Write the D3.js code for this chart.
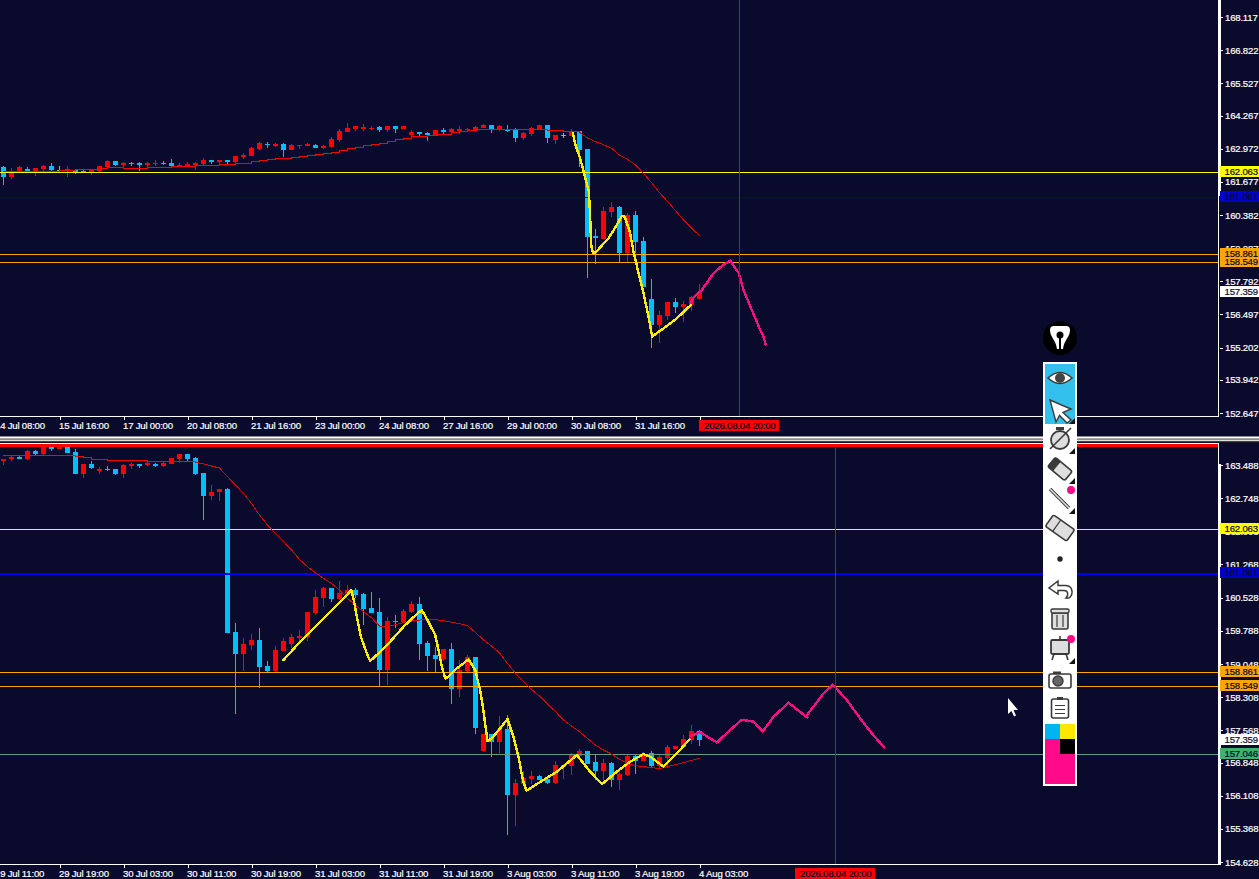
<!DOCTYPE html>
<html>
<head>
<meta charset="utf-8">
<script src="https://cdn.jsdelivr.net/npm/d3@7"></script>
<style>
  html, body { margin: 0; padding: 0; background: #0a0a2c; overflow: hidden; }
  svg { display: block; }
  text { font-family: "Liberation Sans", Arial, sans-serif; font-size: 9.6px; letter-spacing: -0.2px; stroke-width: 0.2px; }
</style>
</head>
<body>
<div id="chart"></div>
<script>
// H4 candles, upper window
const topOpen = [162.258,161.854,162.063,162.180,162.049,162.180,162.297,162.154,162.115,162.154,162.115,162.049,162.102,162.245,162.492,162.336,162.401,162.414,162.336,162.401,162.427,162.414,162.284,162.284,162.336,162.375,162.531,162.453,162.531,162.453,162.648,162.688,162.961,163.156,163.078,163.156,162.922,163.091,163.078,163.117,163.000,163.039,163.313,163.625,163.742,163.742,163.781,163.820,163.703,163.859,
  163.742,163.507,163.625,163.586,163.468,163.703,163.625,163.664,163.716,163.664,163.781,163.898,163.742,163.703,163.703,163.390,163.546,163.703,163.898,163.312,163.494,163.468,163.664,162.961,159.562,159.445,160.500,160.695,158.898,160.382,159.367,157.101,156.085,156.437,156.984,156.789,156.867,157.101];
const topHigh = [162.310,162.219,162.310,162.258,162.219,162.349,162.414,162.297,162.297,162.154,162.154,162.167,162.297,162.518,162.492,162.466,162.466,162.466,162.466,162.531,162.492,162.570,162.414,162.453,162.466,162.609,162.531,162.531,162.531,162.688,162.805,163.039,163.234,163.234,163.195,163.195,163.156,163.117,163.195,163.156,163.117,163.430,163.742,163.977,163.859,163.938,163.859,163.859,163.859,163.859,
  163.859,163.703,163.625,163.625,163.703,163.781,163.781,163.859,163.781,163.859,163.937,163.898,163.898,163.898,163.781,163.625,163.820,163.898,163.898,163.507,163.586,163.742,163.664,162.961,159.836,160.695,160.890,160.734,160.461,160.539,159.523,157.882,156.632,156.984,157.140,157.023,157.218,157.687];
const topLow = [161.555,161.789,162.049,162.049,161.906,162.063,162.089,162.049,161.867,161.984,162.010,161.945,162.063,162.206,162.297,162.258,162.297,162.102,162.245,162.297,162.336,162.219,162.258,162.258,162.154,162.336,162.375,162.375,162.375,162.414,162.570,162.688,162.922,163.000,163.039,162.648,162.922,162.961,163.078,163.000,162.961,163.039,163.234,163.625,163.664,163.664,163.703,163.625,163.625,163.586,
  163.742,163.468,163.468,163.273,163.468,163.546,163.586,163.546,163.625,163.625,163.781,163.586,163.664,163.625,163.234,163.312,163.468,163.703,163.195,163.156,163.390,163.468,162.257,157.921,158.468,159.445,160.304,158.546,158.546,158.898,157.570,155.187,155.382,156.281,156.554,156.203,156.632,157.101];
const topClose = [161.867,162.023,162.258,162.049,162.219,162.310,162.141,162.154,162.167,162.049,162.089,162.154,162.297,162.492,162.336,162.427,162.375,162.336,162.427,162.414,162.401,162.284,162.336,162.375,162.414,162.531,162.453,162.531,162.453,162.688,162.727,163.000,163.195,163.143,163.156,162.922,163.117,163.117,163.156,163.000,163.078,163.352,163.664,163.781,163.859,163.820,163.794,163.703,163.859,163.742,
  163.859,163.625,163.546,163.507,163.703,163.625,163.742,163.742,163.729,163.820,163.898,163.742,163.859,163.664,163.390,163.586,163.781,163.898,163.390,163.507,163.494,163.625,162.922,159.523,159.484,160.539,160.695,158.898,160.382,159.328,157.570,156.085,156.476,156.984,156.789,156.906,157.179,157.375];
const topMa = [162.089,162.076,162.076,162.070,162.063,162.063,162.089,162.128,162.128,162.154,162.167,162.167,162.206,162.219,162.232,162.206,162.206,162.206,162.245,162.245,162.245,162.271,162.284,162.284,162.297,162.323,162.323,162.362,162.362,162.401,162.401,162.479,162.518,162.557,162.596,162.596,162.635,162.674,162.714,162.753,162.792,162.831,162.909,162.987,163.026,163.078,163.143,163.182,163.234,163.313,
  163.365,163.442,163.468,163.494,163.520,163.546,163.586,163.625,163.677,163.716,163.729,163.729,163.729,163.703,163.703,163.703,163.716,163.703,163.690,163.664,163.651,163.651,163.612,163.390,163.247,163.130,162.987,162.726,162.557,162.336,162.010,161.645,161.255,160.916,160.552,160.187,159.875,159.575];

// H1 candles, lower window
const botOpen = [163.578,163.615,163.667,163.622,163.801,163.734,163.935,163.845,163.935,163.779,163.287,163.511,163.354,163.399,163.399,163.287,163.466,163.511,163.488,163.511,163.466,163.511,163.622,163.734,163.645,163.310,162.796,162.885,162.952,159.760,159.269,159.470,159.581,159.001,158.890,159.336,159.492,159.626,159.649,160.184,160.519,160.742,160.497,160.586,160.698,160.608,160.296,160.206,158.912,159.998,159.983,160.206,160.385,159.514,
  159.247,159.158,159.381,158.488,158.890,159.203,157.104,157.484,157.305,157.595,156.122,156.368,156.480,156.546,156.480,156.390,156.747,156.770,156.993,157.104,156.859,156.658,156.837,156.457,156.569,156.993,156.881,157.052,156.770,156.948,157.149,157.194,157.350,157.551];
const botHigh = [163.615,163.689,163.689,163.823,163.823,163.980,163.980,163.960,163.980,163.845,163.511,163.578,163.444,163.466,163.399,163.511,163.533,163.511,163.555,163.533,163.555,163.645,163.734,163.734,163.667,163.310,163.041,162.952,162.974,159.961,159.626,159.716,159.849,159.113,159.448,159.626,159.716,159.805,160.206,160.698,160.764,160.742,160.898,160.809,160.742,160.630,160.653,160.519,160.095,160.140,160.274,160.452,160.541,159.559,
  159.426,159.381,159.515,159.136,159.247,159.203,157.484,157.484,157.886,157.908,156.480,156.658,156.658,156.569,156.480,156.881,156.814,157.052,157.149,157.104,157.015,156.926,156.859,156.680,157.037,157.037,157.082,157.104,157.015,157.238,157.216,157.461,157.685,157.573];
const botLow = [163.488,163.578,163.622,163.600,163.712,163.712,163.801,163.845,163.756,163.287,163.198,163.399,163.287,163.354,163.265,163.198,163.399,163.421,163.466,163.444,163.444,163.511,163.533,163.578,163.265,162.260,162.706,162.684,159.738,157.930,158.890,159.359,158.510,158.867,158.890,159.336,159.403,159.492,159.559,160.140,160.318,160.430,160.474,160.586,160.519,159.916,160.184,158.555,158.577,159.849,159.961,160.184,159.135,158.890,
  158.868,159.113,158.153,158.310,158.868,157.484,157.104,156.970,157.060,155.230,155.430,156.368,156.368,156.457,156.368,156.368,156.480,156.569,156.993,156.814,156.457,156.457,156.301,156.234,156.546,156.591,156.881,156.747,156.725,156.725,157.149,157.194,157.261,157.216];
const botClose = [163.615,163.667,163.622,163.801,163.734,163.935,163.845,163.935,163.756,163.287,163.511,163.421,163.399,163.377,163.287,163.488,163.511,163.466,163.533,163.466,163.533,163.645,163.734,163.622,163.287,162.796,162.885,162.952,159.738,159.269,159.492,159.581,158.979,158.890,159.359,159.559,159.649,159.671,160.206,160.541,160.742,160.497,160.630,160.698,160.586,160.274,160.184,158.912,160.006,159.983,160.229,160.385,159.492,159.225,
  159.158,159.381,158.488,158.912,159.203,157.618,157.484,157.305,157.595,156.122,156.390,156.502,156.546,156.457,156.390,156.792,156.785,157.008,157.104,156.814,156.658,156.837,156.457,156.591,156.993,156.881,156.993,156.770,156.970,157.194,157.216,157.372,157.551,157.350];
const botMa = [163.704,163.704,163.704,163.704,163.704,163.704,163.704,163.704,163.704,163.674,163.652,163.615,163.600,163.592,163.592,163.592,163.585,163.585,163.570,163.570,163.570,163.570,163.570,163.570,163.548,163.511,163.466,163.421,163.227,163.041,162.855,162.632,162.372,162.148,161.962,161.776,161.590,161.382,161.218,161.084,160.958,160.846,160.697,160.511,160.363,160.214,160.080,159.894,159.894,159.923,159.968,160.005,160.028,160.035,
  160.035,160.013,159.983,159.946,159.901,159.753,159.581,159.448,159.299,159.061,158.838,158.652,158.481,158.332,158.153,157.982,157.796,157.662,157.536,157.387,157.238,157.127,157.037,156.918,156.829,156.777,156.755,156.740,156.710,156.755,156.799,156.844,156.896,156.941];

// freehand strokes, [bar, price]
const topYellow = [[71.17,163.573],[71.5,163.117],[72.08,162.596],[72.58,162.010],[73.17,161.294],[73.33,160.317],[73.46,159.211],[73.67,158.911],[74.0,158.911],[74.58,159.119],[75.63,159.471],[76.67,159.992],[77.29,160.343],[77.67,160.317],[78.33,159.666],[78.75,158.950],[79.29,158.234],[80.0,157.322],[80.63,156.411],[81.08,155.630],[82.5,155.955],[84.17,156.346],[85.92,156.867]];
const topPink = [[85.92,156.932],[86.25,157.166],[87.29,157.453],[88.75,158.104],[89.79,158.390],[90.83,158.599],[91.92,158.104],[92.5,157.453],[93.54,156.672],[94.5,155.955],[95.0,155.630],[95.25,155.330]];
const botYellow = [[35.0,159.135],[37.08,159.544],[39.17,159.916],[41.25,160.288],[42.92,160.586],[43.46,160.698],[43.75,160.511],[44.17,160.102],[44.67,159.656],[45.42,159.284],[45.83,159.113],[46.88,159.284],[48.33,159.544],[50.0,159.879],[51.67,160.162],[52.29,160.251],[53.0,160.028],[53.96,159.693],[54.38,159.358],[54.79,158.986],[55.21,158.726],[55.63,158.763],[56.67,158.949],[58.13,159.150],[58.96,158.912],[59.58,158.466],[59.92,158.094],[60.5,157.327],[61.04,157.387],[62.08,157.610],[63.0,157.819],[63.75,157.424],[64.38,156.978],[64.92,156.457],[65.38,156.219],[66.67,156.368],[69.17,156.643],[71.67,157.015],[73.33,156.643],[74.83,156.368],[76.67,156.643],[78.33,156.866],[80.0,157.037],[80.83,156.978],[82.5,156.755],[84.17,157.052],[85.75,157.365]];
const botPinkA = [[85.83,157.439],[87.08,157.521],[88.13,157.409],[89.17,157.297],[90.83,157.573],[92.29,157.803],[93.75,157.759],[94.92,157.543],[96.25,157.870],[98.12,158.183],[100.5,157.848]];
const botPinkB = [[100.5,157.922],[102.5,158.391],[103.67,158.585],[105.42,158.242],[107.08,157.833],[108.54,157.498],[110.08,157.186]];

// axis labels
const topPriceTicks = [168.117,166.822,165.527,164.267,162.972,161.677,160.382,159.087,157.792,156.497,155.202,153.942,152.647];
const botPriceTicks = [163.488,162.748,162.008,161.268,160.528,159.788,159.048,158.308,157.568,156.848,156.108,155.368,154.628];
const topTimeBars = [-1,7,15,23,31,39,47,55,63,71,79,87];
const topTimeLabels = ['14 Jul 08:00','15 Jul 16:00','17 Jul 00:00','20 Jul 08:00','21 Jul 16:00','23 Jul 00:00','24 Jul 08:00','27 Jul 16:00','29 Jul 00:00','30 Jul 08:00','31 Jul 16:00','3 Aug 00:00'];
const botTimeBars = [-1,7,15,23,31,39,47,55,63,71,79,87];
const botTimeLabels = ['29 Jul 11:00','29 Jul 19:00','30 Jul 03:00','30 Jul 11:00','30 Jul 19:00','31 Jul 03:00','31 Jul 11:00','31 Jul 19:00','3 Aug 03:00','3 Aug 11:00','3 Aug 19:00','4 Aug 03:00'];

// price levels and the tags on the price axis
const levels = [162.063,161.081,158.861,158.549];
const bidPrice = 157.359;
const askPrice = 157.046;
const crossLabel = '2026.08.04 20:00';

const width = 1259, height = 879;
const bg = '#0a0a2c';
const colUp = '#ff0000', colDown = '#00bfff', colDoji = '#3ce08c';
const levelColors = ['#ffff00','#0000c8','#ffa500','#ffa500'];
const penWidth = 2.4;

const svg = d3.select('#chart').append('svg').attr('width', width).attr('height', height);
svg.append('rect').attr('width', width).attr('height', height).attr('fill', bg);

const defs = svg.append('defs');
defs.append('clipPath').attr('id','clip-top').append('rect').attr('width',1218).attr('height',416);
defs.append('clipPath').attr('id','clip-bot').append('rect').attr('y',447).attr('width',1218).attr('height',417);

const x = d3.scaleLinear().domain([0,87]).range([3.5,699.5]);
const yTop = d3.scaleLinear().domain([168.117,152.647]).range([17,413]);
const yBot = d3.scaleLinear().domain([163.488,154.628]).range([465,862]);

const candleColor = (o,c) => c > o ? colUp : (c < o ? colDown : colDoji);

function drawCandles(g, y, open, high, low, close){
  g.selectAll('rect.wick').data(open).enter().append('rect')
    .attr('class','wick')
    .attr('x',(d,i)=>Math.floor(x(i)))
    .attr('width',1)
    .attr('y',(d,i)=>Math.round(y(high[i])))
    .attr('height',(d,i)=>Math.max(1,Math.round(y(low[i]))-Math.round(y(high[i]))))
    .attr('fill',(d,i)=>candleColor(d,close[i]));
  g.selectAll('rect.body').data(open).enter().append('rect')
    .attr('class','body')
    .attr('x',(d,i)=>Math.floor(x(i))-2)
    .attr('width',5)
    .attr('y',(d,i)=>Math.round(y(Math.max(d,close[i]))))
    .attr('height',(d,i)=>Math.max(1,Math.round(y(Math.min(d,close[i])))-Math.round(y(Math.max(d,close[i])))))
    .attr('fill',(d,i)=>candleColor(d,close[i]));
}

function hline(g, yy, color, h){
  g.append('rect').attr('x',0).attr('width',1218).attr('y',Math.round(yy)).attr('height',h || 1).attr('fill',color);
}

function stroke(g, y, pts, color, w, curve){
  const line = d3.line().x(d=>x(d[0])).y(d=>y(d[1])).curve(curve || d3.curveLinear);
  g.append('path').attr('d',line(pts)).attr('fill','none')
    .attr('stroke',color).attr('stroke-width',w)
    .attr('stroke-linejoin','round').attr('stroke-linecap','round')
    .attr('shape-rendering','crispEdges');
}

function priceAxis(y, ticks){
  const g = svg.append('g').attr('transform','translate(1220,0)')
    .call(d3.axisRight(y).tickValues(ticks).tickFormat(d3.format('.3f')).tickSize(3).tickPadding(2));
  g.select('.domain').remove();
  g.selectAll('line').attr('stroke','#fff').attr('shape-rendering','crispEdges');
  g.attr('font-size',null).attr('font-family',null);
  g.selectAll('text').attr('fill','#fff').attr('stroke','#fff');
}

function timeAxis(yPos, bars, labels){
  const g = svg.append('g').attr('transform','translate(0,'+yPos+')')
    .call(d3.axisBottom(x).tickValues(bars).tickFormat((d,i)=>labels[i]).tickSize(4).tickPadding(2));
  g.select('.domain').remove();
  g.selectAll('line').attr('stroke','#fff').attr('shape-rendering','crispEdges');
  g.attr('font-size',null).attr('font-family',null);
  g.selectAll('text').attr('fill','#fff').attr('stroke','#fff').attr('text-anchor','start').attr('x',-1);
}

// tag boxes go down first so a neighbour never hides a price
function tags(y, list){
  list.forEach(t=>{
    svg.append('rect').attr('x',1220).attr('y',Math.round(y(t[0]))-6).attr('width',39).attr('height',11).attr('fill',t[1]);
  });
  list.forEach(t=>{
    svg.append('text').attr('x',1224.6).attr('y',Math.round(y(t[0]))+3).attr('fill',bg).attr('stroke',bg).text(d3.format('.3f')(t[0]));
  });
}

function crossTag(xPos, yPos){
  svg.append('rect').attr('x',xPos).attr('y',yPos).attr('width',80).attr('height',11).attr('fill','#ff0000');
  svg.append('text').attr('x',xPos+5).attr('y',yPos+9).attr('fill',bg).attr('stroke',bg).text(crossLabel);
}

// --- upper window
priceAxis(yTop, topPriceTicks);
timeAxis(416, topTimeBars, topTimeLabels);

const topWin = svg.append('g').attr('clip-path','url(#clip-top)');
drawCandles(topWin, yTop, topOpen, topHigh, topLow, topClose);
levels.forEach((v,i)=>hline(topWin, yTop(v), i===1 ? '#00009c' : levelColors[i]));
const topMaPts = topMa.map((v,i)=>[i,v]);
stroke(topWin, yTop, topMaPts.slice(0,73), '#ff0000', 1, d3.curveStepAfter);
stroke(topWin, yTop, topMaPts.slice(72), '#d80000', 1);
stroke(topWin, yTop, topYellow, '#ffee00', penWidth);
stroke(topWin, yTop, topPink, '#f5127f', penWidth);
topWin.append('rect').attr('x',739).attr('width',1).attr('y',0).attr('height',416).attr('fill','#b0122a');

svg.append('rect').attr('x',0).attr('y',416).attr('width',1219).attr('height',1).attr('fill','#fff');
svg.append('rect').attr('x',1218).attr('y',0).attr('width',1).attr('height',417).attr('fill','#fff');
svg.append('rect').attr('x',1218).attr('y',0).attr('width',3).attr('height',196).attr('fill','#fff');

tags(yTop, levels.map((v,i)=>[v,levelColors[i]]).concat([[bidPrice,'#ffffff']]));
crossTag(699, 420);

// --- splitter between the windows
[[436,'#8c8c8c'],[437,'#ffffff'],[438,'#a8a8a8'],[439,'#8c8c8c'],[440,'#dcdcdc'],[441,'#444444'],[442,'#14141c'],[443,'#f4f4f4']].forEach(r=>{
  svg.append('rect').attr('x',0).attr('y',r[0]).attr('width',width).attr('height',1).attr('fill',r[1]);
});
svg.append('rect').attr('x',1219).attr('y',443).attr('width',40).attr('height',1).attr('fill',bg);

// --- lower window
priceAxis(yBot, botPriceTicks);
timeAxis(864, botTimeBars, botTimeLabels);

const botWin = svg.append('g').attr('clip-path','url(#clip-bot)');
drawCandles(botWin, yBot, botOpen, botHigh, botLow, botClose);
levels.forEach((v,i)=>{
  if(i===1) hline(botWin, yBot(v), '#0000f0', 2);
  else hline(botWin, yBot(v), levelColors[i]);
});
hline(botWin, yBot(askPrice), '#669988');
const botMaPts = botMa.map((v,i)=>[i,v]);
stroke(botWin, yBot, botMaPts.slice(0,25), '#ff0000', 1, d3.curveStepAfter);
stroke(botWin, yBot, botMaPts.slice(24), '#d80000', 1);
stroke(botWin, yBot, botYellow, '#ffee00', penWidth);
stroke(botWin, yBot, botPinkA, '#f5127f', penWidth);
stroke(botWin, yBot, botPinkB, '#f5127f', penWidth);
botWin.append('rect').attr('x',835).attr('width',1).attr('y',447).attr('height',417).attr('fill','#b0122a');

svg.append('rect').attr('x',0).attr('y',444).attr('width',1218).attr('height',3).attr('fill','#ff0000');
svg.append('rect').attr('x',0).attr('y',864).attr('width',1219).attr('height',1).attr('fill','#fff');
svg.append('rect').attr('x',1218).attr('y',443).attr('width',1).attr('height',22).attr('fill','#fff');
svg.append('rect').attr('x',1218).attr('y',464).attr('width',3).attr('height',401).attr('fill','#fff');

tags(yBot, levels.map((v,i)=>[v,levelColors[i]]).concat([[bidPrice,'#ffffff'],[askPrice,'#3cb371']]));
crossTag(795, 868);

// --- drawing toolbar
const tb = svg.append('g');
const ink = '#3a3a3a', pale = '#dedede', pink = '#ff0a88';
tb.append('circle').attr('cx',1060).attr('cy',338).attr('r',17).attr('fill','#000');
tb.append('path').attr('d','M1050 330Q1050 326 1054 326L1066 326Q1070 326 1070 330C1070 337 1064 340 1063 349L1057 349C1056 340 1050 337 1050 330Z').attr('fill','#fff');
tb.append('circle').attr('cx',1060).attr('cy',335).attr('r',3.5).attr('fill','#000');
tb.append('rect').attr('x',1059).attr('y',335).attr('width',2).attr('height',15).attr('fill','#000');

tb.append('rect').attr('x',1043).attr('y',362).attr('width',34).attr('height',424).attr('fill','#fff');
tb.append('rect').attr('x',1045).attr('y',364).attr('width',30).attr('height',60).attr('fill','#33c0ec');

// eye
tb.append('path').attr('d','M1048 378Q1060 367 1072 378Q1060 389 1048 378Z').attr('fill','#fff').attr('stroke',ink).attr('stroke-width',1.6);
tb.append('circle').attr('cx',1060).attr('cy',378).attr('r',5).attr('fill','#444');
// arrow
tb.append('path').attr('d','M1050 400L1071 409L1063 412.5L1071 420L1067 423L1059.5 415.5L1056 422Z').attr('fill','#fff').attr('stroke',ink).attr('stroke-width',1.4);
// stopwatch
tb.append('circle').attr('cx',1060).attr('cy',440).attr('r',9).attr('fill',pale).attr('stroke',ink).attr('stroke-width',1.8);
tb.append('rect').attr('x',1056).attr('y',427).attr('width',8).attr('height',3).attr('fill',ink);
tb.append('line').attr('x1',1050).attr('y1',449).attr('x2',1071).attr('y2',428).attr('stroke',ink).attr('stroke-width',1.6);
// pencil
tb.append('g').attr('transform','translate(1060,469) rotate(40)').call(s=>{
  s.append('rect').attr('x',-11).attr('y',-6).attr('width',22).attr('height',12).attr('rx',2).attr('fill',pale).attr('stroke',ink).attr('stroke-width',1.6);
  s.append('rect').attr('x',-11).attr('y',-6).attr('width',7).attr('height',12).attr('fill',ink);
});
// line tool
tb.append('line').attr('x1',1050).attr('y1',489).attr('x2',1069).attr('y2',508).attr('stroke',ink).attr('stroke-width',3.4);
tb.append('line').attr('x1',1050).attr('y1',489).attr('x2',1069).attr('y2',508).attr('stroke',pale).attr('stroke-width',1.6);
tb.append('circle').attr('cx',1071).attr('cy',490).attr('r',4).attr('fill',pink);
// eraser
tb.append('g').attr('transform','translate(1060,528) rotate(35)').call(s=>{
  s.append('rect').attr('x',-13).attr('y',-7).attr('width',26).attr('height',14).attr('rx',2).attr('fill',pale).attr('stroke',ink).attr('stroke-width',1.6);
  s.append('line').attr('x1',-4).attr('y1',-7).attr('x2',-4).attr('y2',7).attr('stroke',ink).attr('stroke-width',1.2);
});
// dot
tb.append('circle').attr('cx',1060).attr('cy',559).attr('r',2.7).attr('fill','#222');
// undo
tb.append('path').attr('d','M1058 581L1049 588L1058 594L1058 590.5L1064 590.5C1068 590.5 1069 595 1066 598L1069 598C1074 594 1073 585.5 1065 585.5L1058 585.5Z').attr('fill','#fff').attr('stroke',ink).attr('stroke-width',1.5);
// trash
tb.append('rect').attr('x',1052).attr('y',613).attr('width',16).attr('height',16).attr('rx',1.5).attr('fill',pale).attr('stroke',ink).attr('stroke-width',1.6);
tb.append('rect').attr('x',1051).attr('y',609).attr('width',18).attr('height',4).attr('rx',1.5).attr('fill',pale).attr('stroke',ink).attr('stroke-width',1.4);
tb.append('path').attr('d','M1057 615V627M1063 615V627').attr('stroke',ink).attr('stroke-width',1.2);
// easel
tb.append('rect').attr('x',1051).attr('y',640).attr('width',18).attr('height',14).attr('rx',1.5).attr('fill',pale).attr('stroke',ink).attr('stroke-width',1.8);
tb.append('path').attr('d','M1054 654L1052 660M1066 654L1068 660M1060 636V640').attr('stroke',ink).attr('stroke-width',1.6);
tb.append('circle').attr('cx',1071).attr('cy',639).attr('r',4).attr('fill',pink);
// camera
tb.append('rect').attr('x',1049).attr('y',674).attr('width',22).attr('height',14).attr('rx',2).attr('fill','#fff').attr('stroke',ink).attr('stroke-width',1.6);
tb.append('circle').attr('cx',1058).attr('cy',681).attr('r',5).attr('fill','#666').attr('stroke',ink).attr('stroke-width',1.4);
tb.append('rect').attr('x',1053).attr('y',671.5).attr('width',8).attr('height',2.5).attr('fill',ink);
// clipboard
tb.append('rect').attr('x',1051.5).attr('y',699).attr('width',17).attr('height',19).attr('rx',2).attr('fill','#fff').attr('stroke',ink).attr('stroke-width',1.6);
tb.append('path').attr('d','M1055 705.5H1065M1055 709.5H1065M1055 713.5H1065').attr('stroke',ink).attr('stroke-width',1.2);
tb.append('rect').attr('x',1057).attr('y',697).attr('width',6).attr('height',3).attr('fill',ink);
// small corner marks
[424,454,484,514,664].forEach(yy=>{
  tb.append('path').attr('d','M1075 '+yy+'L1069 '+yy+'L1075 '+(yy-6)+'Z').attr('fill','#111');
});
// colour swatches
[[1045,724,15,15,'#00b4f0'],[1060,724,15,15,'#ffe800'],[1045,739,15,15,'#ff0a88'],[1060,739,15,15,'#000'],[1045,754,30,30,'#ff0a88']].forEach(s=>{
  tb.append('rect').attr('x',s[0]).attr('y',s[1]).attr('width',s[2]).attr('height',s[3]).attr('fill',s[4]);
});

// mouse cursor
svg.append('path').attr('d','M1008 698L1008 714L1011.5 711L1014 716.5L1016 715.5L1013.5 710L1018 710Z').attr('fill','#fff');
</script>
</body>
</html>
